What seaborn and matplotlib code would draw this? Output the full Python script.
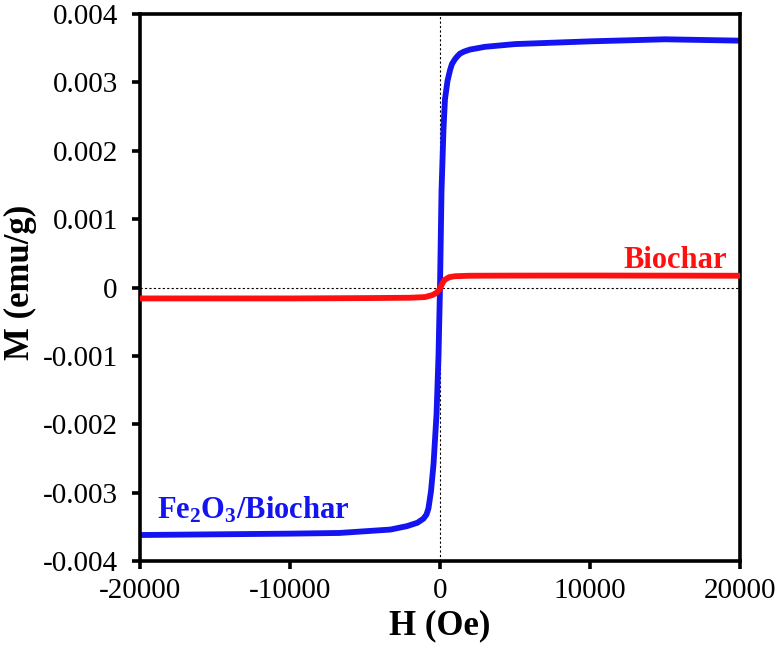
import matplotlib
matplotlib.use("Agg")
import matplotlib.pyplot as plt
import seaborn as sns

# dati (H in Oe, M in emu/g)
H_fe = [-20000, -15000, -10000, -6700, -3300, -2200, -1500, -1100, -900, -770, -600,
        -430, -230, -100, 0, 100, 230, 330, 500, 670, 800, 1000, 1150, 1330, 1600,
        2000, 3000, 5000, 10000, 15000, 20000]
M_fe = [-0.00362, -0.00361, -0.00360, -0.00359, -0.00354, -0.00349, -0.00344, -0.00338,
        -0.00332, -0.00323, -0.00298, -0.00258, -0.00185, -0.00100, 0.00000, 0.00140,
        0.00230, 0.00275, 0.00302, 0.00318, 0.00327, 0.00334, 0.00338, 0.00342, 0.00345,
        0.00348, 0.00352, 0.00356, 0.00360, 0.00363, 0.00361]

H_bc = [-20000, -10000, -5000, -2000, -1000, -500, -250, 0, 150, 300, 600, 1000,
        2000, 5000, 10000, 20000]
M_bc = [-0.00016, -0.00016, -0.000155, -0.00015, -0.00014, -0.00011, -0.00008, -0.00002,
        0.00006, 0.00011, 0.00015, 0.000165, 0.000172, 0.000174, 0.000175, 0.000172]

x_ticks = [-20000, -10000, 0, 10000, 20000]
y_ticks = [0.004, 0.003, 0.002, 0.001, 0, -0.001, -0.002, -0.003, -0.004]
y_tick_labels = ["0.004", "0.003", "0.002", "0.001", "0", "-0.001", "-0.002", "-0.003", "-0.004"]

sns.set_style("white")
plt.rcParams['font.family'] = ['Liberation Serif', 'DejaVu Serif']
plt.rcParams['mathtext.fontset'] = 'custom'
plt.rcParams['mathtext.rm'] = 'Liberation Serif:bold'
plt.rcParams['mathtext.default'] = 'rm'
plt.rcParams['axes.unicode_minus'] = False
plt.rcParams['text.color'] = 'black'
plt.rcParams['axes.labelcolor'] = 'black'

fig = plt.figure(figsize=(7.8, 6.5), dpi=100)
ax = fig.add_axes([140 / 780, 1 - 561 / 650, 600 / 780, 547 / 650])

# linee tratteggiate sugli assi
ax.axhline(0, color='black', lw=0.8, ls=(0, (2, 2)), zorder=1)
ax.axvline(0, color='black', lw=0.8, ls=(0, (2, 2)), zorder=1)

sns.lineplot(x=H_bc, y=M_bc, sort=False, estimator=None, color='#FF1010', lw=4.2, ax=ax, zorder=3)
sns.lineplot(x=H_fe, y=M_fe, sort=False, estimator=None, color='#1414F0', lw=4.2, ax=ax, zorder=2)

ax.set_xlim(-20000, 20000)
ax.set_ylim(-0.004, 0.004)
ax.set_xticks(x_ticks)
ax.set_xticklabels([str(t) for t in x_ticks])
ax.set_yticks(y_ticks)
ax.set_yticklabels(y_tick_labels)

for s in ax.spines.values():
    s.set_linewidth(2.6)
    s.set_color('black')
ax.tick_params(axis='both', which='major', direction='out', length=6, width=2.6,
               labelsize=21, colors='black', left=True, bottom=True)
ax.tick_params(axis='y', pad=10)
ax.tick_params(axis='x', pad=6)

ax.set_xlabel("H (Oe)", fontsize=25, fontweight='bold')
ax.set_ylabel("M (emu/g)", fontsize=25, fontweight='bold')
ax.xaxis.set_label_coords(0.5, -0.088)
ax.yaxis.set_label_coords(-0.172, 0.51)

ax.text(19150, 0.00029, "Biochar", color='#FF1010', fontsize=22, fontweight='bold',
        ha='right', va='baseline')
ax.text(-18870, -0.00338, "Fe$_2$O$_3$/Biochar", color='#1414F0', fontsize=22,
        fontweight='bold', ha='left', va='baseline')

plt.savefig("out.png", dpi=100)
plt.close()
